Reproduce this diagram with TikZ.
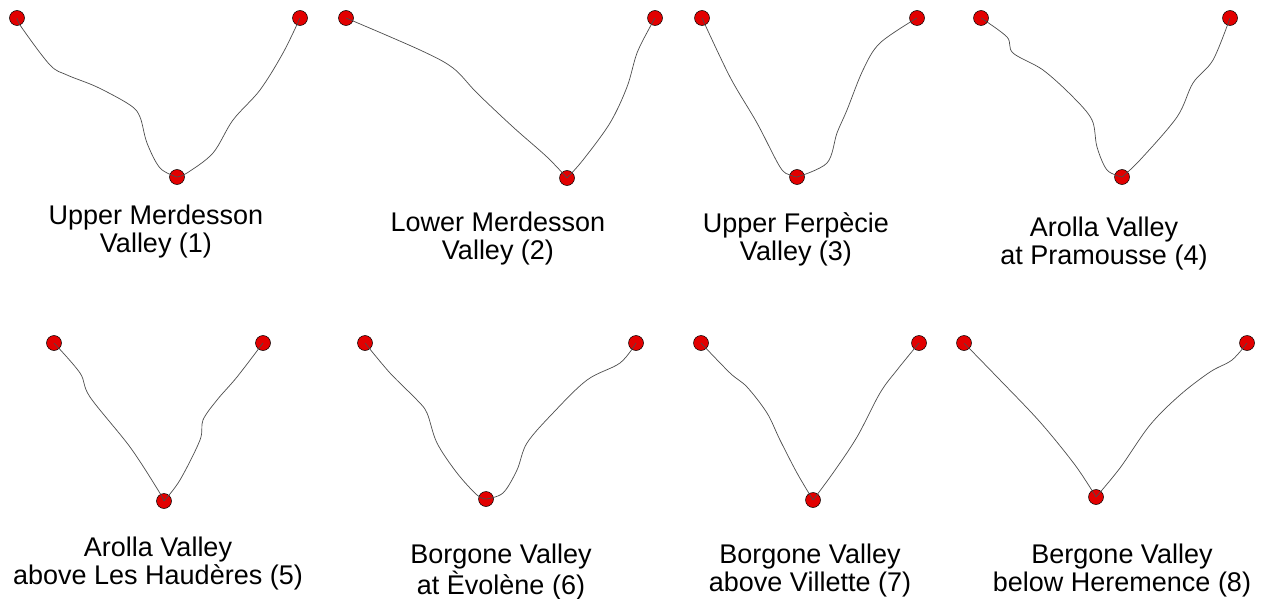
\documentclass[tikz,border=0pt]{standalone}
\usepackage{fontspec}
\setmainfont{Liberation Sans}
\definecolor{station}{RGB}{226,0,0}
\begin{document}
\begin{tikzpicture}[x=1pt,y=-1pt,
  station/.style={circle,fill=station,draw=black,line width=0.5pt,minimum size=15pt,inner sep=0pt},
  profile/.style={draw=black!70,line width=0.7pt,line join=round},
  caption/.style={align=center,font=\fontsize{27}{28}\selectfont}]
\useasboundingbox (0,0) rectangle (1261,599);

% ---- row 1 ----
\node[station] (l1) at (17,18) {};
\node[station] (b1) at (177,177) {};
\node[station] (r1) at (300,18) {};
\node[station] (l2) at (346,18) {};
\node[station] (b2) at (567,178) {};
\node[station] (r2) at (655,18) {};
\node[station] (l3) at (702,18) {};
\node[station] (b3) at (797,177) {};
\node[station] (r3) at (917,18) {};
\node[station] (l4) at (981,18) {};
\node[station] (b4) at (1122,177) {};
\node[station] (r4) at (1230,18) {};

% ---- row 2 ----
\node[station] (l5) at (54,343) {};
\node[station] (b5) at (164,501) {};
\node[station] (r5) at (263,343) {};
\node[station] (l6) at (365,343) {};
\node[station] (b6) at (486,499) {};
\node[station] (r6) at (636,343) {};
\node[station] (l7) at (701,343) {};
\node[station] (b7) at (813,500) {};
\node[station] (r7) at (919,343) {};
\node[station] (l8) at (964,343) {};
\node[station] (b8) at (1096,497) {};
\node[station] (r8) at (1247,343) {};

% ---- valley cross-sections ----
\draw[profile] plot[smooth,tension=0.55] coordinates {(l1.center) (22,28) (50,65) (67,75) (97,87) (130,105) (140,117) (147,143) (160,168) (b1.center)};
\draw[profile] plot[smooth,tension=0.55] coordinates {(b1.center) (187,173) (213,153) (233,120) (260,90) (283,53) (r1.center)};

\draw[profile] plot[smooth,tension=0.55] coordinates {(l2.center) (420,50) (453,68) (477,93) (513,127) (547,157) (b2.center)};
\draw[profile] plot[smooth,tension=0.55] coordinates {(b2.center) (583,160) (610,123) (627,87) (637,53) (650,27) (r2.center)};

\draw[profile] plot[smooth,tension=0.55] coordinates {(l3.center) (730,77) (757,123) (780,167) (790,175) (b3.center)};
\draw[profile] plot[smooth,tension=0.55] coordinates {(b3.center) (827,163) (837,133) (847,110) (863,70) (880,43) (r3.center)};

\draw[profile] plot[smooth,tension=0.55] coordinates {(l4.center) (1007,37) (1013,53) (1043,70) (1073,97) (1092,120) (1097,147) (1107,170) (b4.center)};
\draw[profile] plot[smooth,tension=0.55] coordinates {(b4.center) (1140,160) (1177,117) (1193,83) (1213,60) (r4.center)};

\draw[profile] plot[smooth,tension=0.55] coordinates {(l5.center) (80,373) (90,397) (130,447) (158,490) (b5.center)};
\draw[profile] plot[smooth,tension=0.55] coordinates {(b5.center) (180,480) (200,440) (203,420) (217,400) (237,377) (r5.center)};

\draw[profile] plot[smooth,tension=0.55] coordinates {(l6.center) (390,373) (417,400) (427,413) (437,443) (457,473) (477,495) (b6.center)};
\draw[profile] plot[smooth,tension=0.55] coordinates {(b6.center) (503,493) (517,470) (527,443) (553,413) (587,380) (620,363) (r6.center)};

\draw[profile] plot[smooth,tension=0.55] coordinates {(l7.center) (730,373) (747,387) (767,413) (780,440) (797,473) (b7.center)};
\draw[profile] plot[smooth,tension=0.55] coordinates {(b7.center) (833,473) (857,437) (880,393) (897,370) (r7.center)};

\draw[profile] plot[smooth,tension=0.55] coordinates {(l8.center) (1000,380) (1040,422) (1075,465) (b8.center)};
\draw[profile] plot[smooth,tension=0.55] coordinates {(b8.center) (1120,468) (1150,425) (1180,395) (1210,372) (1232,360) (r8.center)};

% ---- captions ----
\node[caption] (c1) at (156,232) {Upper Merdesson\\Valley (1)};
\node[caption] (c2) at (498,239) {Lower Merdesson\\Valley (2)};
\node[caption] (c3) at (796,239) {Upper Ferpècie\\Valley (3)};
\node[caption] (c4) at (1104,244) {Arolla Valley\\at Pramousse (4)};
\node[caption] (c5) at (158,564) {Arolla Valley\\above Les Haudères (5)};
\node[caption] (c6) at (501,572) {Borgone Valley\\at Èvolène (6)};
\node[caption] (c7) at (810,571) {Borgone Valley\\above Villette (7)};
\node[caption] (c8) at (1122,571) {Bergone Valley\\below Heremence (8)};
\end{tikzpicture}
\end{document}
